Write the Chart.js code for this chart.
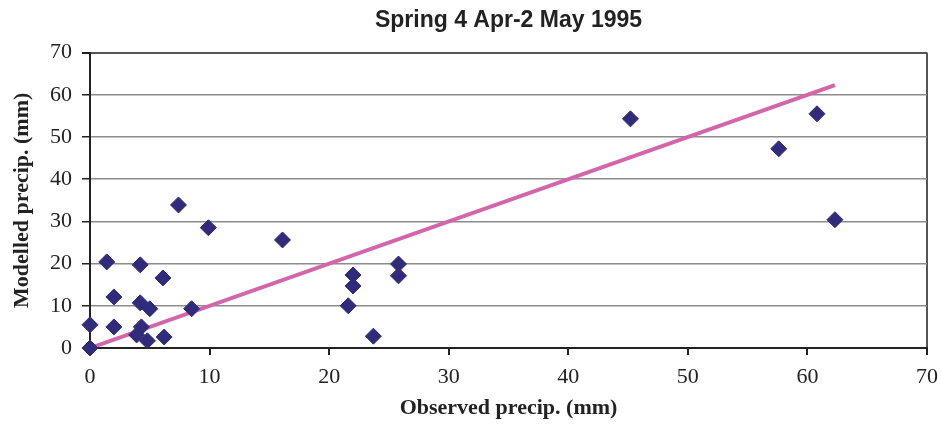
<!DOCTYPE html>
<html lang="en">
<head>
  <meta charset="UTF-8">
  <title>Spring 4 Apr-2 May 1995</title>
  <script src="https://cdn.jsdelivr.net/npm/chart.js"></script>
  <style>
    html, body { margin: 0; padding: 0; background: #fff; overflow: hidden; }
  </style>
</head>
<body>
  <canvas id="precipChart" width="941" height="425"></canvas>
  <script>
    // observed vs modelled precipitation (mm)
    const observed = [0, 0, 1.4, 2.0, 2.0, 4.2, 4.2, 4.3, 3.9, 4.8, 5.0, 6.1, 6.2, 7.4, 8.5, 9.9,
                      16.1, 21.6, 22.0, 22.0, 23.7, 25.8, 25.8, 45.2, 57.6, 60.8, 62.3];
    const modelled = [0, 5.5, 20.4, 12.1, 5.0, 19.7, 10.7, 5.0, 3.1, 1.7, 9.3, 16.6, 2.6, 33.9, 9.3, 28.5,
                      25.6, 10.0, 17.3, 14.7, 2.8, 19.9, 17.1, 54.3, 47.2, 55.5, 30.4];
    // 1:1 line
    const lineX = [0, 62.3];
    const lineY = [0, 62.3];
    const axisTicks = [0, 10, 20, 30, 40, 50, 60, 70];

    const tickFont = { family: "'Liberation Serif', 'Times New Roman', serif", size: 22 };
    const titleFont = { family: "'Liberation Serif', 'Times New Roman', serif", size: 22, weight: 'bold' };

    const points = observed.map((x, i) => ({ x: x, y: modelled[i] }));
    const linePts = lineX.map((x, i) => ({ x: x, y: lineY[i] }));

    new Chart(document.getElementById('precipChart'), {
      type: 'scatter',
      data: {
        datasets: [
          {
            label: 'Modelled',
            data: points,
            pointStyle: 'rectRot',
            pointRadius: 8,
            pointHoverRadius: 8,
            backgroundColor: '#302b7b',
            borderColor: '#302b7b',
            borderWidth: 1,
            clip: false,
            order: 1
          },
          {
            label: '1:1',
            type: 'line',
            data: linePts,
            borderColor: '#d465a9',
            borderWidth: 4,
            pointRadius: 0,
            fill: false,
            order: 2
          }
        ]
      },
      options: {
        responsive: false,
        animation: false,
        layout: { padding: { top: 0, right: 14, bottom: 0, left: 0 } },
        plugins: {
          legend: { display: false },
          tooltip: { enabled: false },
          title: {
            display: true,
            text: 'Spring 4 Apr-2 May 1995',
            fullSize: false,
            color: '#222',
            font: { family: "'Liberation Sans', Arial, sans-serif", size: 23, weight: 'bold' },
            padding: { top: 7, bottom: 18 }
          }
        },
        scales: {
          x: {
            type: 'linear',
            min: 0,
            max: 70,
            afterFit: (axis) => {
              axis.height = 77;
              axis.paddingLeft = 0;
              axis.paddingRight = 0;
            },
            afterBuildTicks: (axis) => { axis.ticks = axisTicks.map(v => ({ value: v })); },
            ticks: { color: '#222', font: tickFont, padding: 9, maxRotation: 0 },
            grid: {
              drawOnChartArea: true,
              color: (ctx) => ctx.tick && ctx.tick.value === 70 ? '#555' : 'rgba(0,0,0,0)',
              lineWidth: 2,
              tickColor: '#222',
              tickLength: 7
            },
            border: { color: '#222', width: 2 },
            title: {
              display: true,
              text: 'Observed precip. (mm)',
              color: '#222',
              font: titleFont,
              padding: { top: 0, bottom: 3 }
            }
          },
          y: {
            type: 'linear',
            min: 0,
            max: 70,
            afterFit: (axis) => {
              axis.width = 90;
              axis.paddingTop = 0;
              axis.paddingBottom = 0;
            },
            afterBuildTicks: (axis) => { axis.ticks = axisTicks.map(v => ({ value: v })); },
            ticks: { color: '#222', font: tickFont, padding: 10 },
            grid: {
              color: (ctx) => ctx.tick && ctx.tick.value === 70 ? '#555' : '#8c8c8c',
              lineWidth: (ctx) => ctx.tick && ctx.tick.value === 70 ? 2 : 1.5,
              tickColor: '#222',
              tickLength: 8
            },
            border: { color: '#222', width: 2 },
            title: {
              display: true,
              text: 'Modelled precip. (mm)',
              color: '#222',
              font: titleFont,
              padding: { top: 9, bottom: 0 }
            }
          }
        }
      }
    });
  </script>
</body>
</html>
